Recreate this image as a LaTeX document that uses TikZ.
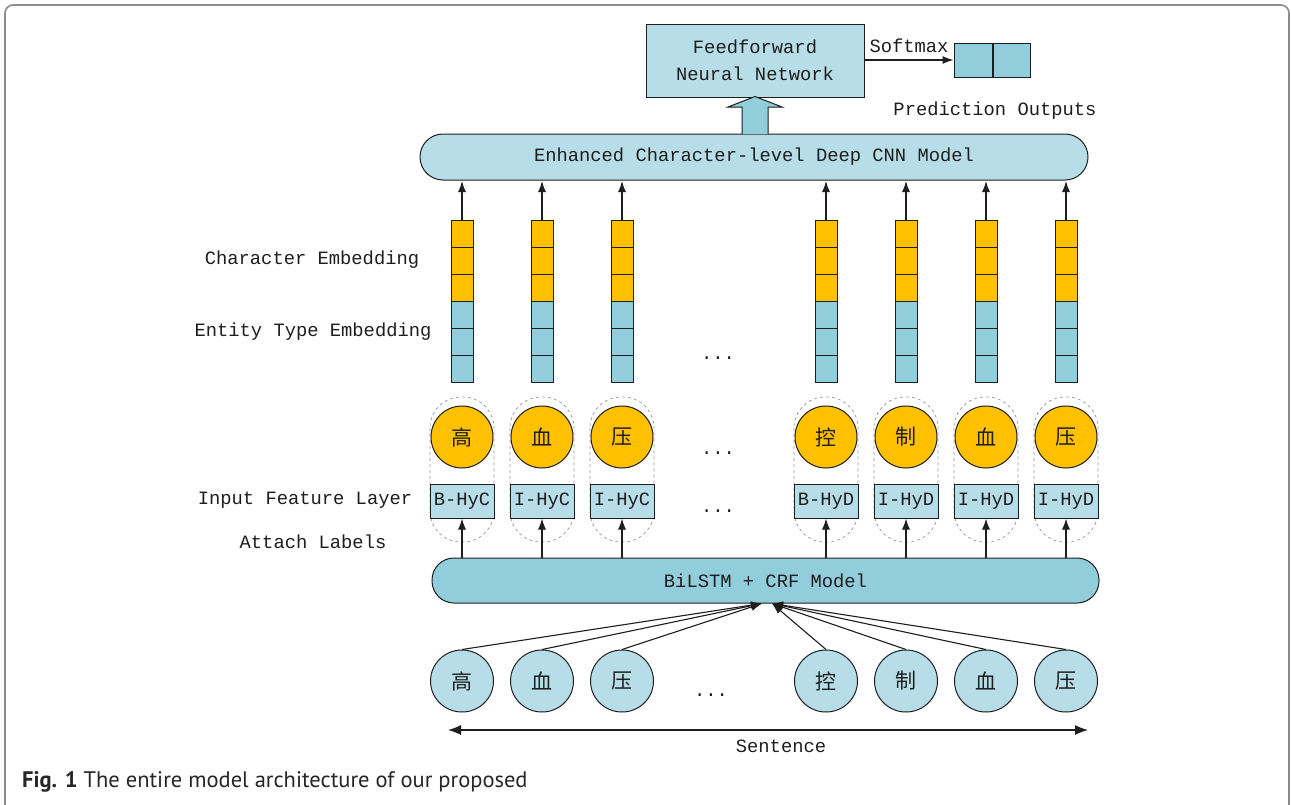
\documentclass[tikz,border=0pt]{standalone}
\usepackage{fontspec}
\setmainfont{Liberation Mono}
\newfontfamily\cjk{Noto Sans CJK SC}
\newfontfamily\capfont{PT Sans}
\usetikzlibrary{arrows.meta,shapes.geometric}
\definecolor{lblue}{HTML}{B7DEE8}
\definecolor{mblue}{HTML}{92CDDC}
\definecolor{orng}{HTML}{FFC000}
\definecolor{txt}{HTML}{1E1E1E}
\definecolor{frame}{HTML}{8C8C8C}
\tikzset{
  mono/.style={font=\fontsize{18.8}{22}\selectfont, text=txt},
  arr/.style={draw=txt, line width=1.1pt, -{Latex[length=11pt,width=8pt]}},
  pill/.style={draw=txt, line width=1pt, rounded corners=22pt},
  cellY/.style={draw=txt, line width=1pt, fill=orng},
  cellB/.style={draw=txt, line width=1pt, fill=mblue},
  lab/.style={draw=txt, line width=1pt, fill=lblue, minimum width=64pt, minimum height=34pt, inner sep=0pt, font=\fontsize{18.8}{22}\selectfont, text=txt},
  och/.style={circle, draw=txt, line width=1pt, fill=orng, minimum size=62pt, inner sep=0pt, font=\cjk\fontsize{21}{22}\selectfont, text=txt},
  bch/.style={ellipse, draw=txt, line width=1pt, fill=lblue, minimum width=63pt, minimum height=62pt, inner sep=0pt, font=\cjk\fontsize{21}{22}\selectfont, text=txt},
  dpill/.style={draw=black!40, dashed, line width=0.7pt, rounded corners=31pt},
}
\begin{document}
\begin{tikzpicture}[x=1pt,y=-1pt]
\useasboundingbox (0,0) rectangle (1291,804);
\fill[white] (0,0) rectangle (1291,804);
% frame
\draw[frame, line width=1.6pt, rounded corners=8pt] (5,810) -- (5,5) -- (1289,5) -- (1289,810);

% FFNN
\node[draw=txt, line width=1pt, fill=lblue, minimum width=218pt, minimum height=73pt, inner sep=0pt, mono, align=center] (ffnn) at (755,60.5) {Feedforward\\[5pt]Neural Network};
\node[draw=txt, line width=1pt, fill=mblue, minimum width=38pt, minimum height=34pt, inner sep=0pt] (o1) at (973,60) {};
\node[draw=txt, line width=1pt, fill=mblue, minimum width=37pt, minimum height=34pt, inner sep=0pt, anchor=west] (o2) at (o1.east) {};
\draw[arr] (ffnn.east |- o1.west) -- (o1.west);
\node[mono] (smx) at (909,46) {Softmax};
\node[mono] (pred) at (995,111) {Prediction Outputs};

% CNN
\node[pill, fill=lblue, minimum width=668pt, minimum height=46pt, inner sep=0pt, mono, rounded corners=23pt] (cnn) at (754,157) {Enhanced Character-level Deep CNN Model};
% big arrow
\draw[draw=txt, line width=1pt, fill=mblue] (742,134) -- (742,107) -- (728,107) -- (755,96.5) -- (782,107) -- (768,107) -- (768,134);

% BiLSTM
\node[pill, fill=mblue, minimum width=667pt, minimum height=45pt, inner sep=0pt, mono] (bil) at (765.5,580.5) {BiLSTM + CRF Model};

% labels left
\node[mono] (ce) at (312,260) {Character Embedding};
\node[mono] (ete) at (313,332) {Entity Type Embedding};
\node[mono] (ifl) at (305,500) {Input Feature Layer};
\node[mono] (al) at (313,542) {Attach Labels};

% dots
\node[mono] (d1) at (718,358) {...};
\node[mono] (d2) at (718,453) {...};
\node[mono] (d3) at (718,511) {...};
\node[mono] (d4) at (711,695) {...};

\coordinate (tl) at (762,603.5);
\coordinate (tr) at (772,603.5);

\foreach \i/\x/\c/\l/\side in {1/462/高/B-HyC/tl,2/542/血/I-HyC/tl,3/622/压/I-HyC/tl,4/826/控/B-HyD/tr,5/906/制/I-HyD/tr,6/986/血/I-HyD/tr,7/1066/压/I-HyD/tr}{
  % embedding vector
  \foreach \k in {0,1,2}{
    \draw[cellY] (\x-11,220+27*\k) rectangle (\x+11,247+27*\k);
  }
  \foreach \k in {3,4,5}{
    \draw[cellB] (\x-11,220+27*\k) rectangle (\x+11,247+27*\k);
  }
  \coordinate (v\i) at (\x,220);
  \draw[arr] (v\i) -- (\x,181);
  % dashed pill
  \draw[dpill] (\x-32,397) rectangle (\x+32,542);
  \node[och] (oc\i) at (\x,437) {\c};
  \node[lab] (lb\i) at (\x,501) {\l};
  \draw[arr] (\x,558) -- (lb\i.south);
  % bottom char
  \node[bch] (bc\i) at (\x,681) {\c};
  \draw[arr] (bc\i.north) -- (\side);
}

% sentence arrow
\coordinate (sl) at (448,730);
\coordinate (sr) at (1088,730);
\draw[draw=txt, line width=1.1pt, {Latex[length=13pt,width=10pt]}-{Latex[length=13pt,width=10pt]}] (sl) -- (sr);
\node[mono] (sent) at (781,746) {Sentence};

% caption
\node[anchor=base west, inner sep=0pt, font=\capfont\fontsize{22.5}{24}\selectfont, text=black!85] (cap) at (22,787) {\textbf{Fig. 1} The entire model architecture of our proposed};
\end{tikzpicture}
\end{document}
